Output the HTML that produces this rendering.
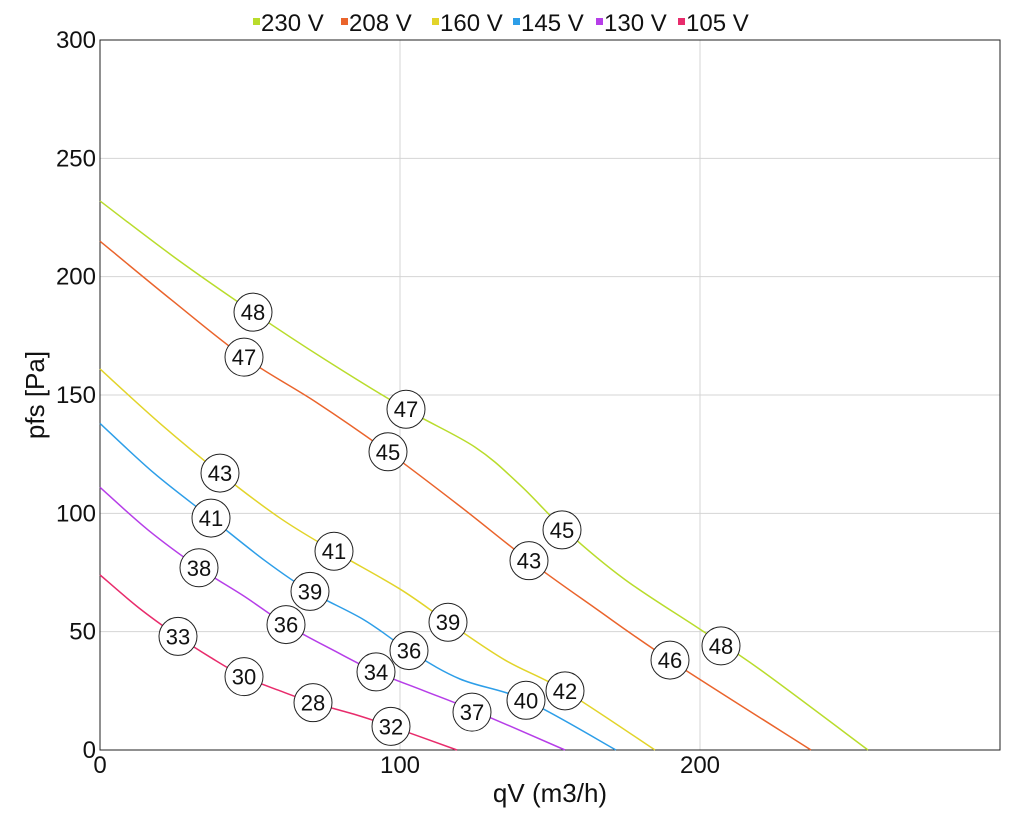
<!DOCTYPE html>
<html><head><meta charset="utf-8"><style>
body{margin:0;background:#fff;font-family:"Liberation Sans",sans-serif}
svg text{font-family:"Liberation Sans",sans-serif}
</style></head><body>
<svg id="c" width="1020" height="820"></svg>
<script>
const seriesNames=["230 V","208 V","160 V","145 V","130 V","105 V"];
const seriesColors=["#b9dc2c","#ea642c","#e2d42a","#2d9ee8","#b63ee8","#e82c6c"];
const q230=[0,25,51,75,102,125,140,155,175,200,220,256];
const p230=[232,208,185,165,144,128,112,93,72,51,34,0];
const q208=[0,24,48,72,96,120,143,165,190,237];
const p208=[215,190,166,147,126,103,80,60,38,0];
const q160=[0,20,40,60,78,100,116,135,155,185];
const p160=[161,138,117,98,84,68,54,38,25,0];
const q145=[0,18,37,55,70,88,103,120,142,172];
const p145=[138,117,98,80,67,55,42,30,21,0];
const q130=[0,16,33,48,62,78,92,108,124,155];
const p130=[111,93,77,65,53,42,33,25,17,0];
const q105=[0,13,26,37,48,60,71,85,97,119];
const p105=[74,60,48,39,31,25,20,15,10,0];
const markerQ=[[51,102,154,207],[48,96,143,190],[40,78,116,155],[37,70,103,142],[33,62,92,124],[26,48,71,97]];
const markerP=[[185,144,93,44],[166,126,80,38],[117,84,54,25],[98,67,42,21],[77,53,33,16],[48,31,20,10]];
const markerLabels=[["48","47","45","48"],["47","45","43","46"],["43","41","39","42"],["41","39","36","40"],["38","36","34","37"],["33","30","28","32"]];
const xTicks=[0,100,200];
const yTicks=[0,50,100,150,200,250,300];
const X0=100,X1=1000,Y0=750,Y1=40;
const xs=v=>X0+v/300*(X1-X0), ys=v=>Y0-v/300*(Y0-Y1);
const svg=document.getElementById('c'),NS="http://www.w3.org/2000/svg";
function mk(t,a,p){const e=document.createElementNS(NS,t);for(const k in a)e.setAttribute(k,a[k]);(p||svg).appendChild(e);return e;}
// grid
for(const v of [100,200]){const l=mk('line',{x1:xs(v),x2:xs(v),y1:Y1,y2:Y0,stroke:"#d4d4d4"});}
for(const v of yTicks.slice(1)){const l=mk('line',{x1:X0,x2:X1,y1:ys(v),y2:ys(v),stroke:"#d4d4d4"});}
const fr=mk('rect',{x:X0,y:Y1,width:X1-X0,height:Y0-Y1,fill:"none",stroke:"#222","stroke-width":1});

for(const v of xTicks){const t=mk('text',{x:xs(v),y:773,"font-size":24,"text-anchor":"middle",fill:"#111"});t.textContent=v;}
for(const v of yTicks){const t=mk('text',{x:96,y:ys(v)+8,"font-size":24,"text-anchor":"end",fill:"#111"});t.textContent=v;}
let t=mk('text',{x:550,y:802,"font-size":26,"text-anchor":"middle",fill:"#111"});t.textContent="qV (m3/h)";
t=mk('text',{x:0,y:0,"font-size":26,"text-anchor":"middle",fill:"#111",transform:"translate(44,395) rotate(-90)"});t.textContent="pfs [Pa]";
const Q=[q230,q208,q160,q145,q130,q105],P=[p230,p208,p160,p145,p130,p105];
function path(qa,pa){const pts=qa.map((q,i)=>[xs(q),ys(pa[i])]);let d=`M${pts[0][0]},${pts[0][1]}`;
for(let i=0;i<pts.length-1;i++){const p0=pts[i-1]||pts[i],p1=pts[i],p2=pts[i+1],p3=pts[i+2]||p2;
d+=`C${p1[0]+(p2[0]-p0[0])/6},${p1[1]+(p2[1]-p0[1])/6} ${p2[0]-(p3[0]-p1[0])/6},${p2[1]-(p3[1]-p1[1])/6} ${p2[0]},${p2[1]}`;}return d;}
for(let s=0;s<6;s++){const e=mk('path',{d:path(Q[s],P[s]),fill:"none",stroke:seriesColors[s],"stroke-width":1.5});}
for(let s=0;s<6;s++)for(let i=0;i<markerQ[s].length;i++){const g=mk('g',{});
const cx=xs(markerQ[s][i]),cy=ys(markerP[s][i]);mk('circle',{cx,cy,r:19,fill:"#fff",stroke:"#222","stroke-width":1},g);
const tt=mk('text',{x:cx,y:cy+8,"font-size":22,"text-anchor":"middle",fill:"#111","font-family":"Liberation Mono, monospace"},g);tt.textContent=markerLabels[s][i];}
// legend
const lx=[253,341,432,513,596,678];
for(let s=0;s<6;s++){const g=mk('g',{});
mk('rect',{x:lx[s],y:18,width:7,height:7,fill:seriesColors[s]},g);
const tx=mk('text',{x:lx[s]+8,y:31,"font-size":24,fill:"#111"},g);tx.textContent=seriesNames[s];}
</script></body></html>
